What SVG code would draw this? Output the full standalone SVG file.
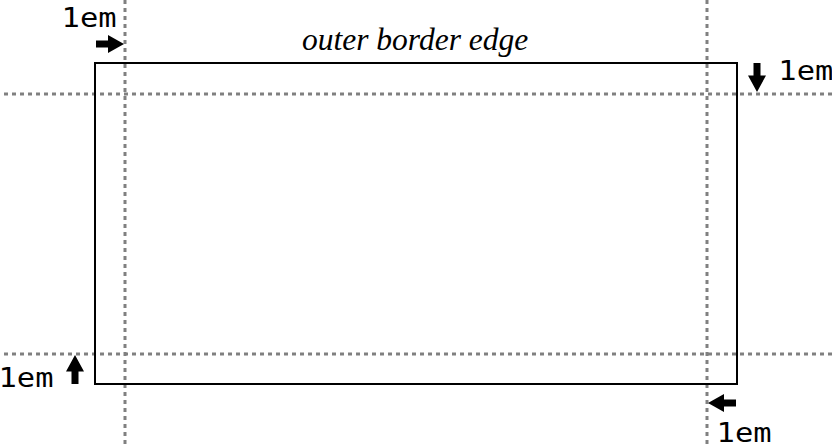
<svg xmlns="http://www.w3.org/2000/svg" width="832" height="448" viewBox="0 0 832 448">
<style>
.guide{stroke:#808080;stroke-width:3;stroke-dasharray:4 4;fill:none}
.box{stroke:#000;stroke-width:2;fill:none}
.lbl{font-family:"DejaVu Sans Mono",monospace;font-size:26px;fill:#000}
.cap{font-family:"Liberation Serif",serif;font-style:italic;font-size:31.5px;fill:#000}
.arr{fill:#000}
</style>
<rect width="832" height="448" fill="#fff"/>
<g id="guides">
<line class="guide" x1="125" y1="0" x2="125" y2="448"/>
<line class="guide" x1="707" y1="0" x2="707" y2="448"/>
<line class="guide" x1="4" y1="94" x2="832" y2="94"/>
<line class="guide" x1="4" y1="354" x2="832" y2="354"/>
</g>
<g id="outer-border-edge">
<rect class="box" x="95" y="63" width="642" height="321"/>
<text class="cap" x="302" y="50">outer border edge</text>
</g>
<g id="connectors">
<path class="arr" d="M96,40.5 H108 V35 L124,44 L108,53 V47.5 H96 Z"/>
<path class="arr" d="M753.5,63 V75.5 H748 L757,92 L766,75.5 H760.5 V63 Z"/>
<path class="arr" d="M71.5,384 V371.5 H66 L75,355 L84,371.5 H78.5 V384 Z"/>
<path class="arr" d="M736,399.5 H724 V394 L708,403 L724,412 V406.5 H736 Z"/>
</g>
<g id="label-top-left"><text class="lbl" x="61.6" y="27" textLength="55" lengthAdjust="spacingAndGlyphs">1em</text></g>
<g id="label-top-right"><text class="lbl" x="778.3" y="80" textLength="55" lengthAdjust="spacingAndGlyphs">1em</text></g>
<g id="label-bottom-left"><text class="lbl" x="-1.5" y="387" textLength="55" lengthAdjust="spacingAndGlyphs">1em</text></g>
<g id="label-bottom-right"><text class="lbl" x="716.6" y="442" textLength="55" lengthAdjust="spacingAndGlyphs">1em</text></g>
</svg>
